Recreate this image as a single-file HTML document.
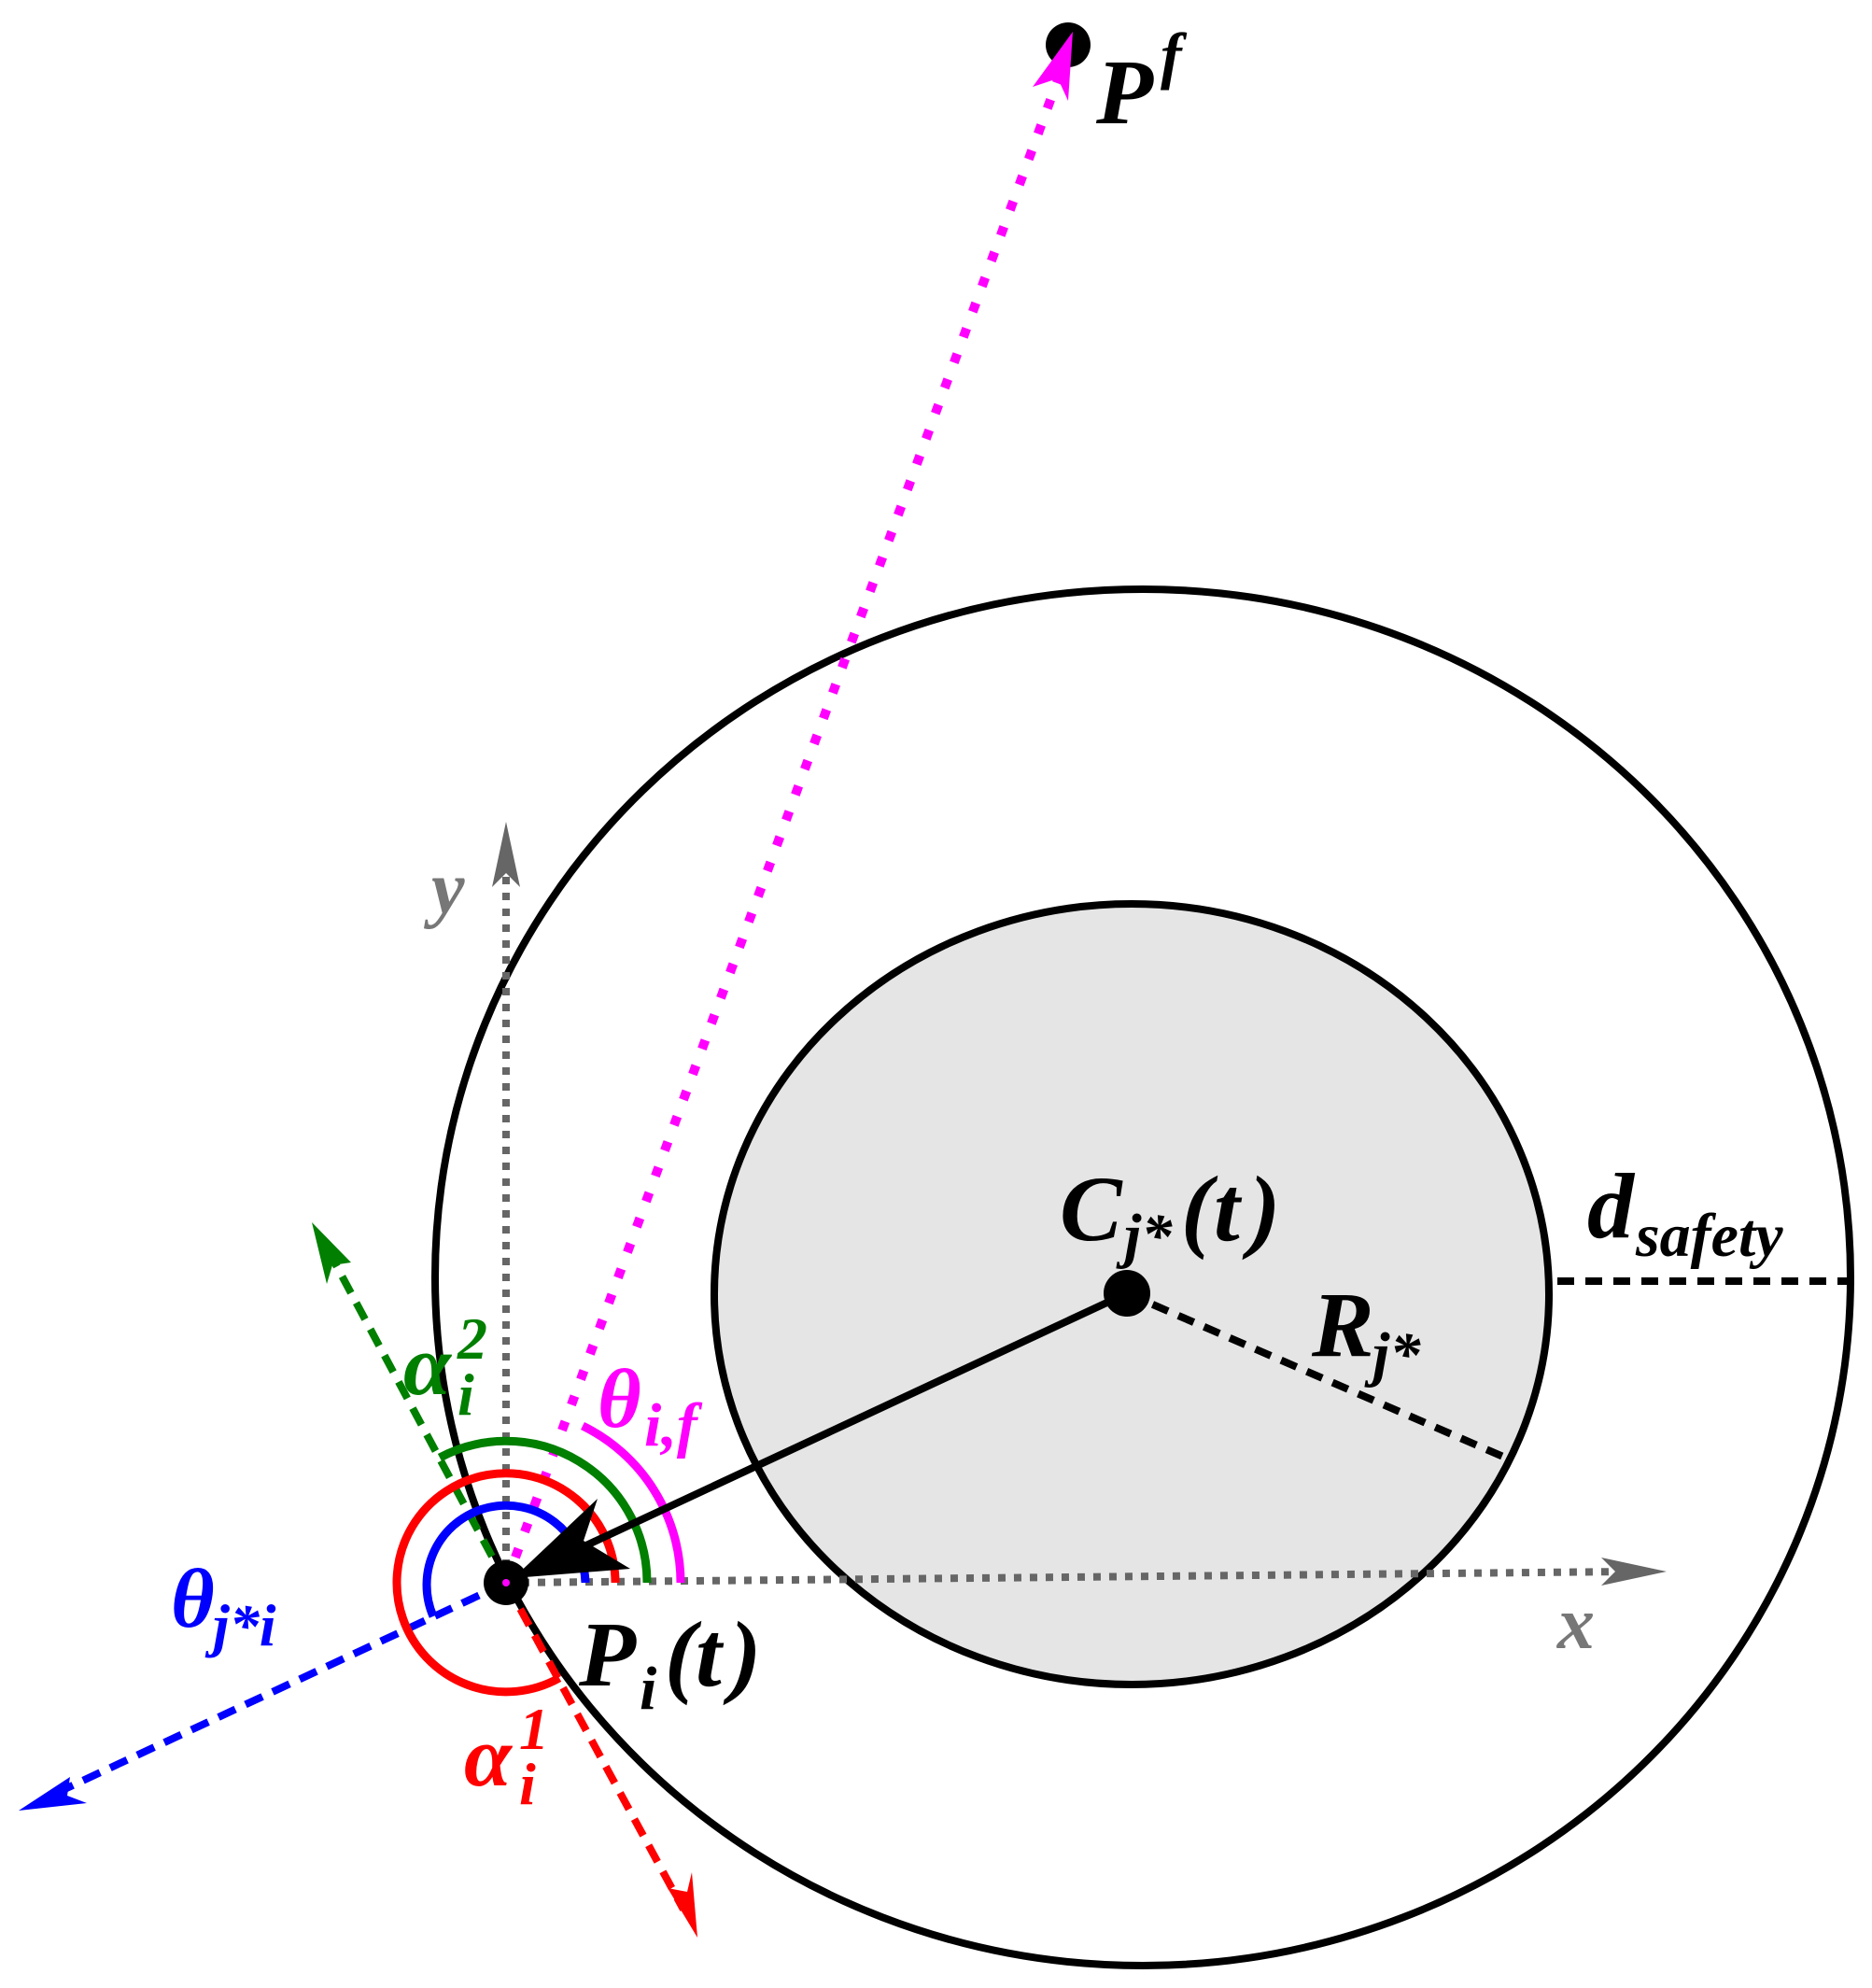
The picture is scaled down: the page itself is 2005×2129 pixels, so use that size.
<!DOCTYPE html>
<html><head><meta charset="utf-8"><style>
html,body{margin:0;padding:0;background:#fff}
svg{display:block}
text{font-family:"Liberation Serif",serif;font-style:italic;font-weight:bold}
</style></head><body>
<svg width="2005" height="2129" viewBox="0 0 2005 2129" xmlns="http://www.w3.org/2000/svg">
<ellipse cx="1224" cy="1368" rx="758" ry="737" fill="none" stroke="#000" stroke-width="8"/>
<ellipse cx="1212" cy="1386" rx="447" ry="418" fill="#e5e5e5" stroke="#000" stroke-width="8"/>

<line x1="542" y1="1695" x2="542" y2="920" stroke="#666" stroke-width="8" stroke-dasharray="8 9"/>
<polygon points="542,880 527,950 542,935 557,950" fill="#666"/>
<line x1="542" y1="1695" x2="1745" y2="1683" stroke="#666" stroke-width="8" stroke-dasharray="8 9"/>
<polygon points="1785,1683 1715,1668 1730,1683 1715,1698" fill="#666"/>

<line x1="542" y1="1695" x2="1135" y2="80" stroke="#ff00ff" stroke-width="10" stroke-dasharray="10 19"/>
<circle cx="1144" cy="48" r="24" fill="#000"/>
<polygon points="1149,34 1106,93 1133,84 1144,108" fill="#ff00ff"/>

<line x1="542" y1="1695" x2="352" y2="1340" stroke="#007f00" stroke-width="8" stroke-dasharray="20 12"/>
<polygon points="334,1309 350,1375 356,1355 376,1352" fill="#007f00"/>
<line x1="542" y1="1695" x2="50" y2="1925" stroke="#0000ff" stroke-width="8" stroke-dasharray="20 12"/>
<polygon points="20,1939 93,1931 72,1923 75,1903" fill="#0000ff"/>
<line x1="542" y1="1695" x2="732" y2="2045" stroke="#ff0000" stroke-width="8" stroke-dasharray="20 12"/>
<polygon points="747,2075 741,2005 736,2026 715,2022" fill="#ff0000"/>

<path d="M 627 1695 A 85 85 0 1 0 464 1731" fill="none" stroke="#0000ff" stroke-width="9"/>
<path d="M 659 1695 A 117 117 0 1 0 599 1797" fill="none" stroke="#ff0000" stroke-width="9"/>
<path d="M 693 1695 A 151 151 0 0 0 471 1561" fill="none" stroke="#007f00" stroke-width="9"/>
<path d="M 729 1695 A 187 187 0 0 0 624 1527" fill="none" stroke="#ff00ff" stroke-width="9"/>

<line x1="1207" y1="1385" x2="600" y2="1668" stroke="#000" stroke-width="8"/>
<polygon points="550,1690 640,1605 625,1650 675,1680" fill="#000"/>

<line x1="1207" y1="1385" x2="1610" y2="1560" stroke="#000" stroke-width="8" stroke-dasharray="18 12"/>
<line x1="1668" y1="1372" x2="1991" y2="1372" stroke="#000" stroke-width="8" stroke-dasharray="18 12"/>

<circle cx="1207" cy="1385" r="25" fill="#000"/>
<circle cx="542" cy="1695" r="24" fill="#000"/>
<circle cx="542" cy="1695" r="4" fill="#ff00ff"/>

<text x="1174" y="132" font-size="100">P</text>
<text x="1243" y="82" font-size="68">f</text>

<text x="1135" y="1328" font-size="100">C</text>
<text x="1204" y="1345" font-size="66">j*</text>
<text x="1265" y="1328" font-size="100" font-style="normal" font-weight="normal">(</text>
<text x="1300" y="1328" font-size="100">t</text>
<text x="1338" y="1328" font-size="100" font-style="normal" font-weight="normal">)</text>

<text x="1700" y="1325" font-size="100">d</text>
<text x="1752" y="1345" font-size="66">safety</text>

<text x="1405" y="1452" font-size="100">R</text>
<text x="1470" y="1472" font-size="66">j*</text>

<text x="620" y="1805" font-size="100">P</text>
<text x="685" y="1830" font-size="66">i</text>
<text x="712" y="1805" font-size="100" font-style="normal" font-weight="normal">(</text>
<text x="745" y="1805" font-size="100">t</text>
<text x="782" y="1805" font-size="100" font-style="normal" font-weight="normal">)</text>

<text x="640" y="1528" font-size="90" fill="#ff00ff">θ</text>
<text x="690" y="1548" font-size="66" fill="#ff00ff">i,f</text>

<text x="432" y="1493" font-size="92" fill="#007f00">α</text>
<text x="490" y="1455" font-size="64" fill="#007f00">2</text>
<text x="490" y="1515" font-size="64" fill="#007f00">i</text>

<text x="183" y="1742" font-size="90" fill="#0000ff">θ</text>
<text x="228" y="1762" font-size="64" fill="#0000ff">j*i</text>

<text x="497" y="1912" font-size="92" fill="#ff0000">α</text>
<text x="556" y="1873" font-size="64" fill="#ff0000">1</text>
<text x="556" y="1932" font-size="64" fill="#ff0000">i</text>

<text x="462" y="978" font-size="80" fill="#777">y</text>
<text x="1668" y="1765" font-size="80" fill="#777">x</text>
</svg>
</body></html>
